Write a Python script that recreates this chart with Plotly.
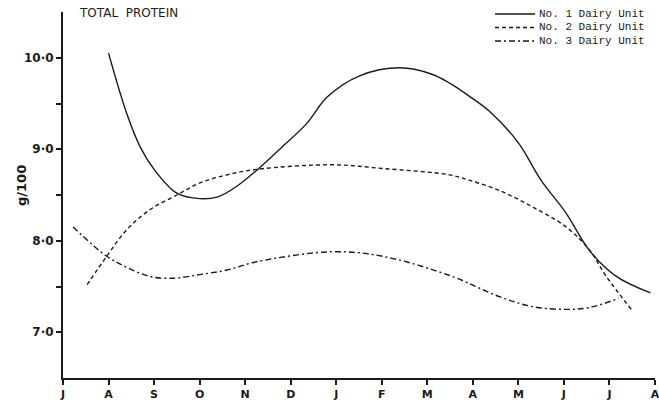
import plotly.graph_objects as go

month_labels = ["J", "A", "S", "O", "N", "D", "J", "F", "M", "A", "M", "J", "J", "A"]
y_tick_vals = [7.0, 7.5, 8.0, 8.5, 9.0, 9.5, 10.0]
y_tick_text = ["7·0", "", "8·0", "", "9·0", "", "10·0"]

unit1_x = [1.0, 1.4, 1.7, 2.0, 2.5, 3.0, 3.4, 3.8, 4.3, 4.8, 5.35, 5.8, 6.5, 7.4, 8.1, 8.5, 8.95, 9.4, 10.0, 10.5, 11.05, 11.55, 12.15, 12.9]
unit1_y = [10.05, 9.39, 9.02, 8.78, 8.52, 8.46, 8.48, 8.59, 8.79, 9.02, 9.28, 9.57, 9.80, 9.89, 9.82, 9.72, 9.57, 9.40, 9.07, 8.66, 8.30, 7.90, 7.61, 7.43]

unit2_x = [0.53, 0.96, 1.4, 1.91, 2.5, 3.0, 3.6, 4.25, 5.92, 7.02, 8.49, 8.93, 9.58, 10.31, 11.05, 11.56, 11.93, 12.48]
unit2_y = [7.52, 7.83, 8.12, 8.34, 8.50, 8.63, 8.72, 8.78, 8.83, 8.79, 8.72, 8.66, 8.55, 8.37, 8.15, 7.90, 7.61, 7.25]

unit3_x = [0.22, 0.96, 1.4, 1.91, 2.41, 3.0, 3.6, 4.25, 5.92, 7.02, 8.49, 9.58, 10.31, 11.05, 11.56, 12.2]
unit3_y = [8.15, 7.83, 7.71, 7.61, 7.59, 7.63, 7.68, 7.77, 7.88, 7.83, 7.62, 7.39, 7.28, 7.25, 7.27, 7.37]

series_names = ["No. 1 Dairy Unit", "No. 2 Dairy Unit", "No. 3 Dairy Unit"]
dashes = ["solid", "4px,3px", "6px,3px,2px,3px"]
ink = "#1a1a1a"

L, R, T, B = 63, 4, 12, 22
PW, PH = 659 - L - R, 400 - T - B

fig = go.Figure()
for xs, ys, name, d in zip([unit1_x, unit2_x, unit3_x], [unit1_y, unit2_y, unit3_y], series_names, dashes):
    fig.add_trace(go.Scatter(
        x=xs, y=ys, mode="lines", name=name, showlegend=False,
        line=dict(color=ink, width=1.4, dash=d, shape="spline", smoothing=1.0),
    ))

# manual legend (top right)
leg_rows = [14, 27.5, 41]
for yy, name, d in zip(leg_rows, series_names, dashes):
    fig.add_shape(type="line", xref="paper", yref="paper",
                  x0=(495 - L) / PW, x1=(535 - L) / PW,
                  y0=(400 - B - yy) / PH, y1=(400 - B - yy) / PH,
                  line=dict(color=ink, width=1.3, dash=d))
    fig.add_annotation(xref="paper", yref="paper", x=(537 - L) / PW, y=(400 - B - yy) / PH,
                       text=name, showarrow=False, xanchor="left", yanchor="middle",
                       font=dict(family="Liberation Mono", size=11, color=ink))

fig.add_annotation(xref="paper", yref="paper", x=(77 - L) / PW, y=(400 - B - 13) / PH,
                   text="TOTAL  PROTEIN", showarrow=False, xanchor="left", yanchor="middle",
                   font=dict(family="DejaVu Sans", size=12, color=ink))

fig.add_annotation(xref="paper", yref="paper", x=(21 - L) / PW, y=(400 - B - 186) / PH,
                   text="g/100", showarrow=False, xanchor="center", yanchor="middle", textangle=-90,
                   font=dict(family="DejaVu Sans", size=13, color=ink, weight="bold"))

fig.update_layout(
    width=659, height=400,
    margin=dict(l=L, r=R, t=T, b=B, autoexpand=False),
    paper_bgcolor="white", plot_bgcolor="white",
    xaxis=dict(range=[0, 13], tickvals=list(range(14)), ticktext=month_labels, automargin=False,
               ticklabeloverflow="allow",
               showgrid=False, zeroline=False, showline=True, linecolor=ink, linewidth=2,
               ticks="outside", ticklen=5, tickwidth=1.5, tickcolor=ink,
               tickfont=dict(family="DejaVu Sans", size=11, color=ink, weight="bold")),
    yaxis=dict(range=[6.5, 10.5], tickvals=y_tick_vals, ticktext=y_tick_text, automargin=False,
               ticklabeloverflow="allow",
               showgrid=False, zeroline=False, showline=True, linecolor=ink, linewidth=2,
               ticks="outside", ticklen=5, tickwidth=1.5, tickcolor=ink,
               tickfont=dict(family="DejaVu Sans", size=12, color=ink, weight="bold")),
)

fig.write_html("out.html", config={"displayModeBar": False},
               post_script="document.body.style.margin='0';document.body.style.overflow='hidden';")
